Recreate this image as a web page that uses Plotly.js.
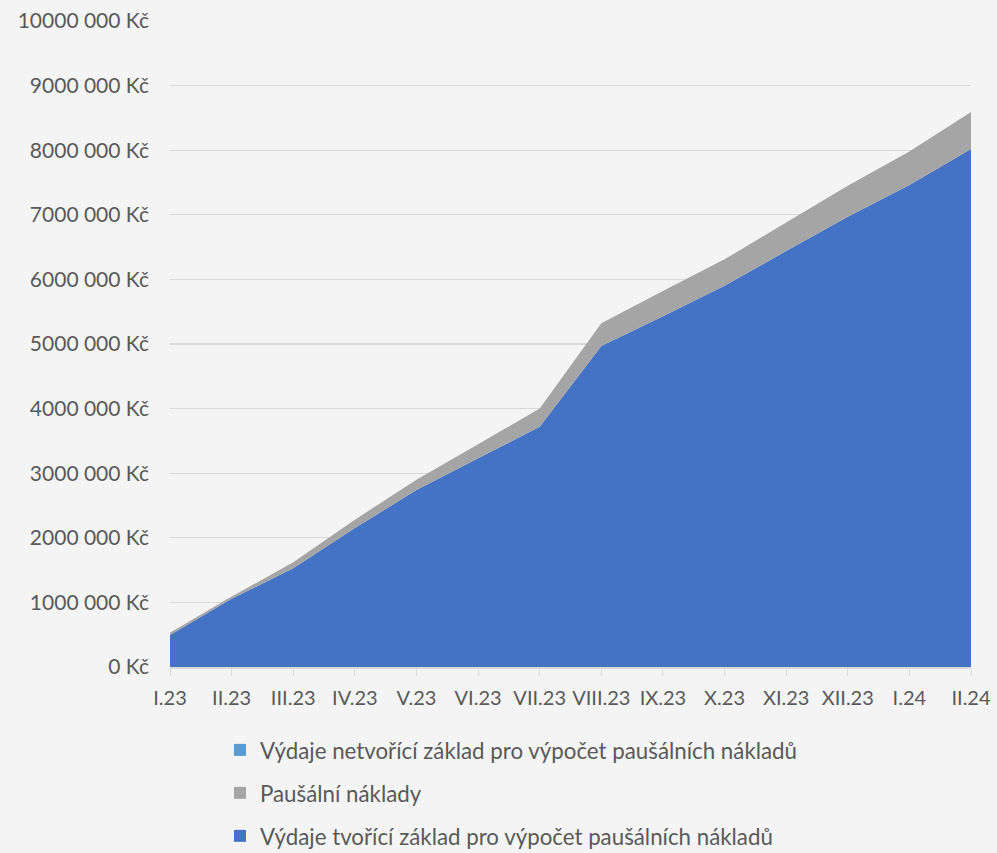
<!DOCTYPE html>
<html><head><meta charset="utf-8">
<script src="https://cdn.plot.ly/plotly-3.0.1.min.js"></script>
<style>html,body{margin:0;padding:0;background:#F4F4F4;}</style>
</head><body>
<div id="chart" style="width:997px;height:853px;"></div>
<script>
const categories = ["I.23","II.23","III.23","IV.23","V.23","VI.23","VII.23","VIII.23","IX.23","X.23","XI.23","XII.23","I.24","II.24"];
const tvoriciZaklad = [495000,1055000,1530000,2150000,2740000,3230000,3720000,4970000,5430000,5900000,6440000,6970000,7460000,8020000];
const pausalniNaklady = [35000,35000,90000,130000,160000,220000,280000,350000,390000,410000,440000,480000,520000,570000];
const netvoriciZaklad = [0,0,0,0,0,0,0,0,0,0,0,0,0,0];
const yTickVals = [0,1000000,2000000,3000000,4000000,5000000,6000000,7000000,8000000,9000000,10000000];
const yTickText = ["0 Kč","1000 000 Kč","2000 000 Kč","3000 000 Kč","4000 000 Kč","5000 000 Kč","6000 000 Kč","7000 000 Kč","8000 000 Kč","9000 000 Kč","10000 000 Kč"];

const names = ["Výdaje tvořící základ pro výpočet paušálních nákladů","Paušální náklady","Výdaje netvořící základ pro výpočet paušálních nákladů"];
const colors = ["#4472C4","#A5A5A5","#5B9BD5"];
const series = [tvoriciZaklad, pausalniNaklady, netvoriciZaklad];

const traces = [];
series.forEach((s,i)=>{
  traces.push({type:'scatter', x:categories, y:s, stackgroup:'one', mode:'none',
    fillcolor:colors[i], name:names[i], showlegend:false, hoverinfo:'x+y'});
});
[2,1,0].forEach((i)=>{
  traces.push({type:'bar', x:[null], y:[null], xaxis:'x2', yaxis:'y2', name:names[i],
    marker:{color:colors[i]}, legendgroup:'g'+i, showlegend:true});
});

const layout = {
  width:997, height:853,
  paper_bgcolor:'#F4F4F4', plot_bgcolor:'#F4F4F4',
  margin:{l:170, r:26, t:21, b:186},
  font:{family:'Lato, "Open Sans", sans-serif', color:'#595959', size:21},
  xaxis:{type:'category', range:[0,13], showgrid:false, showline:true, linecolor:'#D9D9D9', linewidth:1.5,
    ticks:'outside', ticklen:7, tickcolor:'#D9D9D9', tickangle:0, automargin:false, ticklabelstandoff:5,
    tickfont:{size:20, color:'#595959'}, fixedrange:true, zeroline:false},
  yaxis:{range:[0,10000000], tickvals:yTickVals, ticktext:yTickText, showgrid:true, gridcolor:'#D9D9D9', gridwidth:1.3,
    zeroline:false, showline:false, ticks:'', ticklabelstandoff:20, automargin:false, tickfont:{size:21, color:'#595959'}},
  xaxis2:{overlaying:'x', visible:false, domain:[0,1]},
  yaxis2:{overlaying:'y', visible:false},
  showlegend:true,
  legend:{orientation:'v', xref:'paper', yref:'container', x:0.0624, xanchor:'left', y:0.1455, yanchor:'top', traceorder:'grouped',
    tracegroupgap:11, font:{size:22.3, color:'#595959'}, bgcolor:'rgba(0,0,0,0)', itemwidth:30}
};
Plotly.newPlot('chart', traces, layout, {displayModeBar:false, staticPlot:true});
</script>
</body></html>
